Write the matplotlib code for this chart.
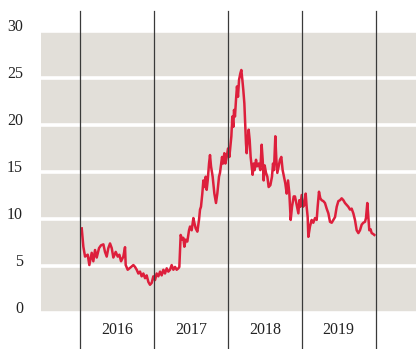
import matplotlib.pyplot as plt
from matplotlib.transforms import offset_copy

# time in decimal years, value of the series
t16 = [2016.023, 2016.045, 2016.068, 2016.104, 2016.126, 2016.158, 2016.180, 2016.203,
       2016.226, 2016.257, 2016.284, 2016.316, 2016.338, 2016.361, 2016.383, 2016.406,
       2016.429, 2016.451, 2016.483, 2016.510, 2016.532, 2016.555, 2016.586, 2016.609,
       2016.618, 2016.645, 2016.677, 2016.722, 2016.744, 2016.767, 2016.789, 2016.812,
       2016.834, 2016.857, 2016.880, 2016.902, 2016.925, 2016.947, 2016.970, 2016.992]
v16 = [9.0, 7.05, 6.0, 6.2, 5.1, 6.4, 5.5, 6.7,
       5.9, 6.9, 7.2, 7.3, 6.5, 6.0, 6.9, 7.4,
       6.9, 5.9, 6.5, 6.0, 6.2, 5.5, 6.0, 7.0,
       5.1, 4.6, 4.8, 5.1, 4.9, 4.6, 4.2, 4.4,
       3.9, 4.2, 3.7, 4.0, 3.3, 3.0, 3.2, 3.9]

t17 = [2017.015, 2017.037, 2017.060, 2017.083, 2017.105, 2017.128, 2017.150, 2017.173,
       2017.195, 2017.218, 2017.240, 2017.263, 2017.286, 2017.308, 2017.331, 2017.344,
       2017.362, 2017.385, 2017.398, 2017.412, 2017.430, 2017.452, 2017.475, 2017.489,
       2017.511, 2017.534, 2017.547, 2017.565, 2017.588, 2017.610, 2017.624, 2017.637,
       2017.655, 2017.669, 2017.683, 2017.701, 2017.714, 2017.728, 2017.746, 2017.759,
       2017.773, 2017.795, 2017.818, 2017.840, 2017.858, 2017.881, 2017.894, 2017.922,
       2017.935, 2017.953, 2017.967, 2017.985]
v17 = [3.5, 4.2, 3.9, 4.4, 4.0, 4.6, 4.2, 4.75,
       4.4, 4.6, 5.1, 4.6, 4.9, 4.6, 4.75, 4.9,
       8.3, 7.8, 8.0, 7.05, 7.8, 7.6, 8.8, 9.2,
       8.8, 10.1, 9.6, 9.0, 8.65, 9.9, 11.0, 11.3,
       12.7, 14.1, 13.4, 14.5, 13.1, 14.1, 15.9, 16.8,
       15.6, 14.5, 12.7, 11.7, 12.7, 14.5, 14.9, 16.6,
       15.9, 17.0, 15.9, 16.6]

t18 = [2018.003, 2018.021, 2018.034, 2018.048, 2018.061, 2018.075, 2018.084, 2018.097,
       2018.111, 2018.124, 2018.138, 2018.152, 2018.170, 2018.183, 2018.197, 2018.210,
       2018.224, 2018.237, 2018.246, 2018.255, 2018.269, 2018.282, 2018.296, 2018.309,
       2018.323, 2018.336, 2018.350, 2018.363, 2018.382, 2018.395, 2018.418, 2018.440,
       2018.458, 2018.472, 2018.485, 2018.499, 2018.517, 2018.535, 2018.553, 2018.576,
       2018.598, 2018.612, 2018.625, 2018.643, 2018.657, 2018.670, 2018.688, 2018.706,
       2018.724, 2018.742, 2018.760, 2018.778, 2018.797, 2018.815, 2018.833, 2018.851,
       2018.869, 2018.892, 2018.909, 2018.932, 2018.955, 2018.968, 2018.981]
v18 = [17.5, 16.6, 17.7, 18.8, 20.9, 19.8, 21.6, 20.9,
       22.7, 24.1, 23.0, 24.8, 25.5, 25.85, 24.8, 23.7,
       22.3, 19.8, 18.05, 17.0, 18.4, 19.5, 18.4, 16.6,
       15.6, 14.7, 15.9, 15.2, 16.3, 15.6, 15.9, 15.2,
       17.9, 16.3, 14.1, 15.7, 14.9, 14.5, 13.4, 13.6,
       14.5, 15.9, 15.2, 18.8, 16.3, 14.9, 15.6, 16.3,
       16.6, 15.2, 14.5, 13.8, 12.7, 14.1, 12.7, 9.9,
       11.3, 12.4, 12.4, 11.5, 10.6, 12.0, 11.3]

t19 = [2019.000, 2019.018, 2019.036, 2019.054, 2019.067, 2019.081, 2019.090, 2019.112,
       2019.135, 2019.157, 2019.180, 2019.203, 2019.216, 2019.234, 2019.252, 2019.270,
       2019.293, 2019.315, 2019.338, 2019.361, 2019.383, 2019.406, 2019.428, 2019.451,
       2019.474, 2019.496, 2019.519, 2019.541, 2019.564, 2019.586, 2019.609, 2019.631,
       2019.654, 2019.676, 2019.699, 2019.721, 2019.744, 2019.767, 2019.789, 2019.812,
       2019.834, 2019.857, 2019.870, 2019.888, 2019.902, 2019.915, 2019.933, 2019.947,
       2019.969, 2019.983]
v19 = [12.55, 11.3, 11.5, 12.7, 11.3, 10.2, 8.1, 9.2,
       9.9, 9.6, 10.1, 9.9, 11.3, 12.9, 12.2, 12.0,
       11.9, 11.7, 11.1, 10.6, 9.7, 9.6, 9.9, 10.2,
       11.3, 11.9, 12.0, 12.2, 12.0, 11.7, 11.5, 11.3,
       11.0, 11.1, 10.6, 9.9, 8.8, 8.5, 8.8, 9.4,
       9.6, 9.7, 10.1, 11.7, 10.2, 8.8, 8.9, 8.5,
       8.4, 8.3]

years = [2016, 2017, 2018, 2019]
y_ticks = [0, 5, 10, 15, 20, 25, 30]

t = t16 + t17 + t18 + t19
v = v16 + v17 + v18 + v19

plt.rcParams['font.family'] = ['Liberation Serif', 'DejaVu Serif']

fig = plt.figure(figsize=(4.16, 3.49), dpi=100)
ax = fig.add_axes([0.0986, 0.1032, 0.9014, 0.808])
ax.set_facecolor('#e2dfd9')

ax.set_xlim(2015.472, 2020.547)
ax.set_ylim(0, 30)

# white horizontal grid
for yv in y_ticks:
    ax.axhline(yv, color='white', lw=2.6, zorder=1)

# year separators, running past the plot area
for yr in years + [2020]:
    ax.axvline(yr, ymin=-0.128, ymax=1.072, color='#3a3a3a', lw=0.9,
               clip_on=False, zorder=3)

ax.plot(t, v, color='#dd1f3c', lw=1.8, zorder=2)

for yr in years:
    ax.text(yr + 0.5, -0.06, str(yr), transform=ax.get_xaxis_transform(),
            ha='center', va='center', fontsize=11.5, color='#222222')

# value labels on the left, sitting on their grid line
lab_tr = offset_copy(ax.get_yaxis_transform(), fig=fig, x=-13, y=0, units='points')
for yv in y_ticks:
    ax.text(0, yv, str(yv), transform=lab_tr, ha='right', va='baseline',
            fontsize=11.5, color='#222222')

ax.set_xticks([])
ax.set_yticks([])
for s in ax.spines.values():
    s.set_visible(False)

fig.savefig('out.png', dpi=100)
